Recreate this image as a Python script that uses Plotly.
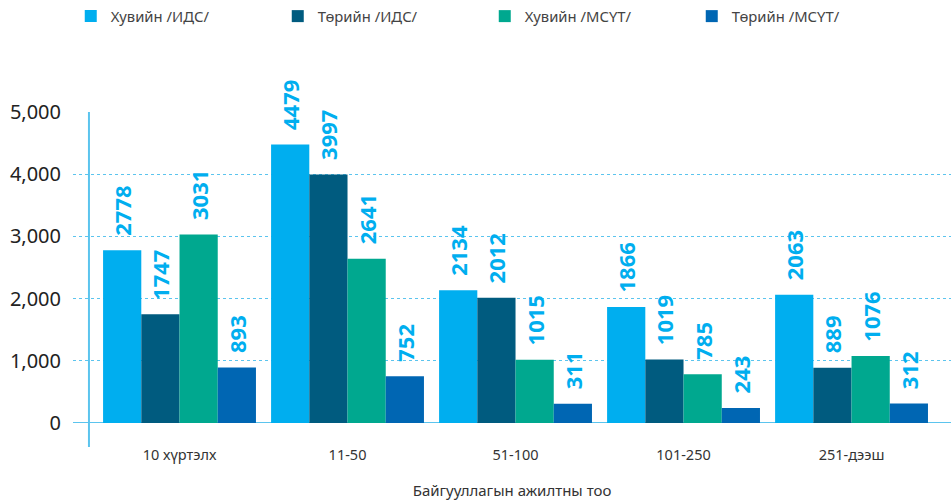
import plotly.graph_objects as go

categories = ["10 хүртэлх", "11-50", "51-100", "101-250", "251-дээш"]
series_names = ["Хувийн /ИДС/", "Төрийн /ИДС/", "Хувийн /МСҮТ/", "Төрийн /МСҮТ/"]
hu_ids = [2778, 4479, 2134, 1866, 2063]
tu_ids = [1747, 3997, 2012, 1019, 889]
hu_msut = [3031, 2641, 1015, 785, 1076]
tu_msut = [893, 752, 311, 243, 312]
colors = ["#00AEEF", "#005B7F", "#00A88F", "#0066B3"]
y_ticks = [0, 1000, 2000, 3000, 4000, 5000]
x_title = "Байгууллагын ажилтны тоо"

FONT = "Noto Sans"
fig = go.Figure()
for name, vals, col in zip(series_names, [hu_ids, tu_ids, hu_msut, tu_msut], colors):
    fig.add_trace(go.Bar(
        name=name, x=list(range(len(categories))), y=vals,
        marker=dict(color=col, line=dict(width=0)),
        text=[str(v) for v in vals], texttemplate="\u00a0\u00a0%{text}", textposition="outside",
        textangle=-90, constraintext="none", cliponaxis=False,
        textfont=dict(family=FONT, size=22, color="#00AEEF", weight="bold"),
    ))

fig.update_layout(
    width=951, height=500,
    margin=dict(l=73, r=0, t=112, b=77, autoexpand=False),
    barmode="group", bargap=0.09, bargroupgap=0,
    plot_bgcolor="white", paper_bgcolor="white",
    font=dict(family=FONT, color="#333333"),
    legend=dict(orientation="h", xref="container", yref="container",
                x=0.0744, y=1.0, xanchor="left", yanchor="top",
                entrywidth=162, entrywidthmode="pixels",
                font=dict(size=14.8, color="#444444"), traceorder="normal"),
    xaxis=dict(range=[-0.634, 4.592], tickvals=list(range(len(categories))),
               ticktext=categories, showgrid=False, zeroline=False, showline=False,
               ticks="", tickfont=dict(size=14.5, color="#333333"), ticklabelstandoff=21,
               title=dict(text=x_title, font=dict(size=15, color="#333333"), standoff=27)),
    yaxis=dict(range=[0, 5000], tickvals=y_ticks, tickformat=",d",
               showgrid=True, gridcolor="#5BC4EE", griddash="dot", gridwidth=1,
               zeroline=False, showline=False, ticks="",
               tickfont=dict(size=20, color="#222222"), ticklabelstandoff=11),
    shapes=[
        dict(type="line", xref="paper", yref="y", x0=0, x1=1, y0=0, y1=0,
             line=dict(color="#5BC4EE", width=2), layer="below"),
        dict(type="line", xref="x", yref="paper", x0=-0.539, x1=-0.539, y0=-0.077, y1=1,
             line=dict(color="#5BC4EE", width=2), layer="below"),
    ],
)
fig.write_html("out.html", config={"displayModeBar": False},
               post_script="document.body.style.margin='0';")
